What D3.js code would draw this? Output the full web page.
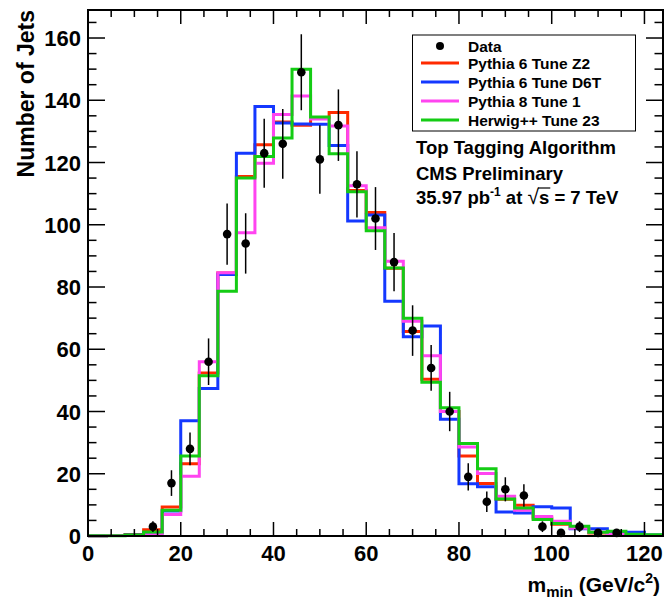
<!DOCTYPE html>
<html>
<head>
<meta charset="utf-8">
<script src="https://cdn.jsdelivr.net/npm/d3@7"></script>
<style>
  body { margin: 0; background: #fff; }
  text { font-family: "Liberation Sans", Arial, Helvetica, sans-serif; font-weight: bold; }
</style>
</head>
<body>
<script>
// Bornes des bins (largeur 4 GeV/c2, de 0 à 124)
var binEdges = d3.range(0, 125, 4);

// Simulations (valeur par bin)
var z2 = [0.1, 0.2, 0.5, 2.0, 9.3, 23.2, 52.4, 84.5, 115.5, 125.7, 133, 132, 134.5, 136.1, 111,
          103.9, 86, 65.7, 50.4, 40, 25.7, 16.9, 11.8, 9.9, 5.8, 3.8, 2.5, 1.0, 1.0, 0.5, 0.2];
var d6t = [0.1, 0.2, 0.3, 1.0, 8, 37, 47.4, 84, 123, 138, 132.7, 132.4, 132.3, 125.5, 101.2,
           103.1, 75.4, 64, 67.5, 37.5, 16.8, 15.8, 7.7, 7.4, 9.4, 9.0, 2.3, 2.3, 0.8, 1.2, 0.3];
var py8 = [0.1, 0.2, 0.2, 0.4, 6.9, 19.2, 56, 84.6, 97.4, 119.8, 135.4, 141.4, 134, 131.7, 112.5,
           99, 88.3, 69, 57.9, 40, 28.6, 20.1, 12.8, 8.3, 6.3, 4.7, 2.5, 1.2, 0.6, 0.3, 0.2];
var herwig = [0.1, 0.1, 0.3, 1.3, 8.3, 25.7, 51.5, 78.6, 115, 121.9, 127.9, 150, 134.6, 122.8, 110.6,
              98.1, 86.1, 70, 49.4, 41.2, 29.7, 21.6, 11.9, 9.0, 5.3, 4.0, 3.1, 1.2, 1.5, 0.6, 0.4];

// Données (centre du bin, nombre de jets)
var dataX = [14, 18, 22, 26, 30, 34, 38, 42, 46, 50, 54, 58, 62, 66, 70, 74, 78, 82, 86, 90, 94, 98, 102, 106, 110, 114];
var dataY = [3, 17, 28, 56, 97, 94, 123, 126, 149, 121, 132, 113, 102, 88, 66, 54, 40, 19, 11, 15, 13, 3, 1, 3, 1, 1];

var seriesNames = ["Pythia 6 Tune Z2", "Pythia 6 Tune D6T", "Pythia 8 Tune 1", "Herwig++ Tune 23"];
var seriesColors = ["#ff2a00", "#1438ff", "#ff44f0", "#14cc14"];
var seriesValues = [z2, d6t, py8, herwig];

var xTicks = [0, 20, 40, 60, 80, 100, 120];
var yTicks = [0, 20, 40, 60, 80, 100, 120, 140, 160];

var W = 665, H = 603;
var plot = {left: 88, right: 663, top: 10, bottom: 536};

var svg = d3.select("body").append("svg")
    .attr("width", W)
    .attr("height", H);

var x = d3.scaleLinear().domain([0, 124]).range([plot.left, plot.right]);
var y = d3.scaleLinear().domain([0, 169]).range([plot.bottom, plot.top]);

// Histogrammes en escalier
var line = d3.line()
    .x(function(d) { return x(d[0]); })
    .y(function(d) { return y(d[1]); })
    .curve(d3.curveStepAfter);

seriesValues.forEach(function(vals, i) {
    var pts = vals.map(function(v, k) { return [binEdges[k], v]; });
    pts.push([binEdges[vals.length], vals[vals.length - 1]]);
    svg.append("path")
        .attr("d", line(pts))
        .attr("fill", "none")
        .attr("stroke", seriesColors[i])
        .attr("stroke-width", 3);
});

// Points de données avec barres d'erreur (sqrt N)
var pts = svg.append("g");
dataX.forEach(function(cx, i) {
    var n = dataY[i], e = Math.sqrt(n);
    pts.append("line")
        .attr("x1", x(cx)).attr("x2", x(cx))
        .attr("y1", y(n + e)).attr("y2", y(Math.max(0, n - e)))
        .attr("stroke", "#000").attr("stroke-width", 1.5);
    pts.append("circle")
        .attr("cx", x(cx)).attr("cy", y(n))
        .attr("r", 4.3).attr("fill", "#000");
});

// Cadre et graduations (axes des deux côtés, style ROOT)
var frame = svg.append("g");
frame.append("rect")
    .attr("x", plot.left).attr("y", plot.top)
    .attr("width", plot.right - plot.left).attr("height", plot.bottom - plot.top)
    .attr("fill", "none").attr("stroke", "#000").attr("stroke-width", 2);

var xMinor = d3.range(5, 124, 5);
xMinor.forEach(function(v) {
    var major = v % 20 === 0, len = major ? 14 : 7;
    frame.append("line").attr("x1", x(v)).attr("x2", x(v))
        .attr("y1", plot.bottom).attr("y2", plot.bottom - len)
        .attr("stroke", "#000").attr("stroke-width", 1.5);
    frame.append("line").attr("x1", x(v)).attr("x2", x(v))
        .attr("y1", plot.top).attr("y2", plot.top + len)
        .attr("stroke", "#000").attr("stroke-width", 1.5);
});
var yMinor = d3.range(5, 169, 5);
yMinor.forEach(function(v) {
    var major = v % 20 === 0, len = major ? 17 : 8.5;
    frame.append("line").attr("x1", plot.left).attr("x2", plot.left + len)
        .attr("y1", y(v)).attr("y2", y(v))
        .attr("stroke", "#000").attr("stroke-width", 1.5);
    frame.append("line").attr("x1", plot.right).attr("x2", plot.right - len)
        .attr("y1", y(v)).attr("y2", y(v))
        .attr("stroke", "#000").attr("stroke-width", 1.5);
});

// Étiquettes des axes
svg.append("g").selectAll("text").data(xTicks).enter().append("text")
    .attr("x", function(d) { return x(d); })
    .attr("y", 561)
    .attr("text-anchor", "middle")
    .attr("font-size", 22)
    .text(function(d) { return d; });

svg.append("g").selectAll("text").data(yTicks).enter().append("text")
    .attr("x", 81)
    .attr("y", function(d) { return y(d) + 8; })
    .attr("text-anchor", "end")
    .attr("font-size", 22)
    .text(function(d) { return d; });

// Titre de l'axe y
svg.append("text")
    .attr("transform", "translate(34,10) rotate(-90)")
    .attr("text-anchor", "end")
    .attr("font-size", 23)
    .text("Number of Jets");

// Titre de l'axe x
var xt = svg.append("text")
    .attr("x", 660).attr("y", 592)
    .attr("text-anchor", "end")
    .attr("font-size", 21);
xt.append("tspan").text("m");
xt.append("tspan").attr("font-size", 15).attr("dy", 5).text("min");
xt.append("tspan").attr("dy", -5).text(" (GeV/c");
xt.append("tspan").attr("font-size", 14).attr("dy", -9).text("2");
xt.append("tspan").attr("dy", 9).text(")");

// Légende
var leg = svg.append("g");
leg.append("rect")
    .attr("x", 412.5).attr("y", 35)
    .attr("width", 223).attr("height", 96)
    .attr("fill", "#fff").attr("stroke", "#000").attr("stroke-width", 1);
var legY = [46, 63, 82, 101, 120];
leg.append("circle").attr("cx", 440).attr("cy", legY[0]).attr("r", 4).attr("fill", "#000");
leg.append("text").attr("x", 468).attr("y", legY[0] + 5.5).attr("font-size", 15.5).text("Data");
seriesNames.forEach(function(name, i) {
    leg.append("line")
        .attr("x1", 421).attr("x2", 459)
        .attr("y1", legY[i + 1]).attr("y2", legY[i + 1])
        .attr("stroke", seriesColors[i]).attr("stroke-width", 3);
    leg.append("text").attr("x", 468).attr("y", legY[i + 1] + 5.5)
        .attr("font-size", 15.5).text(name);
});

// Textes CMS
svg.append("text").attr("x", 416).attr("y", 154).attr("font-size", 18.5).text("Top Tagging Algorithm");
svg.append("text").attr("x", 416).attr("y", 180).attr("font-size", 18.5).text("CMS Preliminary");

var lumi = svg.append("text").attr("x", 416).attr("y", 204).attr("font-size", 18.5);
lumi.append("tspan").text("35.97 pb");
lumi.append("tspan").attr("font-size", 12).attr("dy", -8).text("-1");
lumi.append("tspan").attr("dy", 8).text(" at ");
lumi.append("tspan").attr("font-weight", "normal").attr("font-size", 21).text("\u221A");
lumi.append("tspan").text("s");
lumi.append("tspan").text(" = 7 TeV");

// Barre du radical au-dessus du "s"
var sIdx = "35.97 pb".length + 2 + " at ".length + 1;
var sStart = lumi.node().getStartPositionOfChar(sIdx);
var sEnd = lumi.node().getEndPositionOfChar(sIdx);
svg.append("line")
    .attr("x1", sStart.x - 1).attr("x2", sEnd.x + 1)
    .attr("y1", 204 - 16).attr("y2", 204 - 16)
    .attr("stroke", "#000").attr("stroke-width", 1.2);
</script>
</body>
</html>
